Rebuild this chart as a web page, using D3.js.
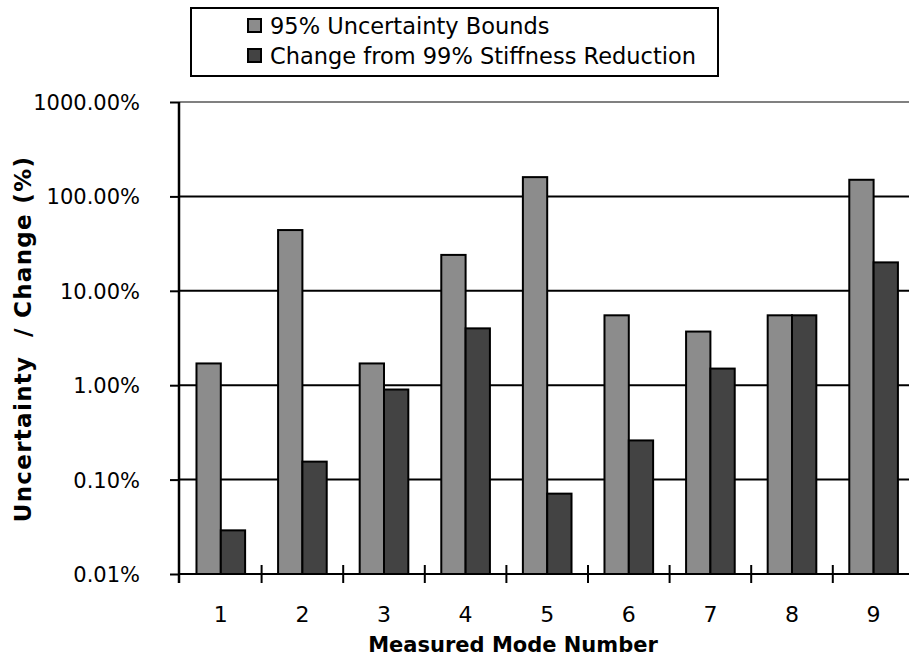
<!DOCTYPE html>
<html>
<head>
<meta charset="utf-8">
<script src="https://cdn.jsdelivr.net/npm/d3@7"></script>
<style>
  html, body { margin: 0; padding: 0; background: #fff; }
  svg { display: block; }
</style>
</head>
<body>
<svg id="chart" width="909" height="658"></svg>
<script>
// Measured modes and the two series (values in percent)
const modes = ["1", "2", "3", "4", "5", "6", "7", "8", "9"];
const seriesNames = ["95% Uncertainty Bounds", "Change from 99% Stiffness Reduction"];
const uncertaintyBounds = [1.7, 44, 1.7, 24, 160, 5.5, 3.7, 5.5, 150];
const stiffnessChange = [0.029, 0.155, 0.9, 4.0, 0.071, 0.26, 1.5, 5.5, 20];
const yTickValues = [0.01, 0.1, 1, 10, 100, 1000];
const yTickLabels = ["0.01%", "0.10%", "1.00%", "10.00%", "100.00%", "1000.00%"];

const seriesColors = ["#8c8c8c", "#434343"];
const svg = d3.select("#chart");

const plot = { left: 180, right: 914.4, top: 102, bottom: 574 };

const x0 = d3.scaleBand()
  .domain(modes)
  .range([plot.left, plot.right])
  .paddingInner(0.404)
  .paddingOuter(0.202);
const x1 = d3.scaleBand()
  .domain(seriesNames)
  .range([0, x0.bandwidth()]);
const y = d3.scaleLog()
  .domain([0.01, 1000])
  .range([plot.bottom, plot.top]);

const rows = modes.map((m, i) => ({
  mode: m,
  values: [uncertaintyBounds[i], stiffnessChange[i]]
}));

// Horizontal gridlines at each decade (top one drawn grey)
svg.append("g").selectAll("line")
  .data(yTickValues)
  .join("line")
  .attr("x1", plot.left)
  .attr("x2", 909)
  .attr("y1", d => y(d))
  .attr("y2", d => y(d))
  .attr("stroke", d => d === 1000 ? "#808080" : "#000")
  .attr("stroke-width", 2);

// Bars
const groups = svg.append("g").selectAll("g")
  .data(rows)
  .join("g")
  .attr("transform", d => `translate(${x0(d.mode)},0)`);
groups.selectAll("rect")
  .data(d => d.values.map((v, k) => ({ name: seriesNames[k], value: v, k })))
  .join("rect")
  .attr("x", d => x1(d.name))
  .attr("width", x1.bandwidth())
  .attr("y", d => y(d.value))
  .attr("height", d => plot.bottom - y(d.value))
  .attr("fill", d => seriesColors[d.k])
  .attr("stroke", "#000")
  .attr("stroke-width", 2);

// Y axis with outward ticks
const yAxis = d3.axisLeft(y)
  .tickValues(yTickValues)
  .tickFormat((d, i) => yTickLabels[i])
  .tickSize(10)
  .tickPadding(30);
const gy = svg.append("g")
  .attr("transform", `translate(${plot.left},0)`)
  .call(yAxis);
gy.select(".domain").remove();
gy.selectAll(".tick line").attr("stroke", "#000").attr("stroke-width", 2);
gy.selectAll(".tick text")
  .attr("font-family", "DejaVu Sans, sans-serif")
  .attr("font-size", 21)
  .attr("fill", "#000")
  .attr("dy", "0.36em");
svg.append("line")
  .attr("x1", plot.left - 1).attr("x2", plot.left - 1)
  .attr("y1", plot.top).attr("y2", plot.bottom + 9)
  .attr("stroke", "#000").attr("stroke-width", 2.5);

// X axis: crossing ticks between categories, labels at band centres
const step = x0.step();
const boundaries = modes.slice(1).map(m => x0(m) - (step - x0.bandwidth()) / 2);
svg.append("g").selectAll("line")
  .data(boundaries)
  .join("line")
  .attr("x1", d => d).attr("x2", d => d)
  .attr("y1", plot.bottom - 9).attr("y2", plot.bottom + 9)
  .attr("stroke", "#000").attr("stroke-width", 2);
svg.append("g").selectAll("text")
  .data(modes)
  .join("text")
  .attr("x", d => x0(d) + x0.bandwidth() / 2)
  .attr("y", 622)
  .attr("text-anchor", "middle")
  .attr("font-family", "DejaVu Sans, sans-serif")
  .attr("font-size", 22)
  .text(d => d);

// Axis titles
svg.append("text")
  .attr("x", 513)
  .attr("y", 652)
  .attr("text-anchor", "middle")
  .attr("font-family", "DejaVu Sans, sans-serif")
  .attr("font-weight", "bold")
  .attr("font-size", 21)
  .text("Measured Mode Number");
svg.append("text")
  .attr("transform", "translate(31,339) rotate(-90)")
  .attr("text-anchor", "middle")
  .attr("font-family", "DejaVu Sans, sans-serif")
  .attr("font-weight", "bold")
  .attr("font-size", 23)
  .attr("letter-spacing", 1.3)
  .style("white-space", "pre")
  .text("Uncertainty  / Change (%)");

// Legend
const legend = svg.append("g");
legend.append("rect")
  .attr("x", 191).attr("y", 8)
  .attr("width", 527).attr("height", 68)
  .attr("fill", "#fff").attr("stroke", "#000").attr("stroke-width", 2);
const items = legend.selectAll("g.item")
  .data(seriesNames)
  .join("g")
  .attr("class", "item")
  .attr("transform", (d, i) => `translate(248,${19 + i * 30})`);
items.append("rect")
  .attr("width", 13).attr("height", 13)
  .attr("fill", (d, i) => seriesColors[i])
  .attr("stroke", "#000").attr("stroke-width", 2);
items.append("text")
  .attr("x", 22)
  .attr("y", 14.5)
  .attr("font-family", "DejaVu Sans, sans-serif")
  .attr("font-size", 22.5)
  .text(d => d);
</script>
</body>
</html>
